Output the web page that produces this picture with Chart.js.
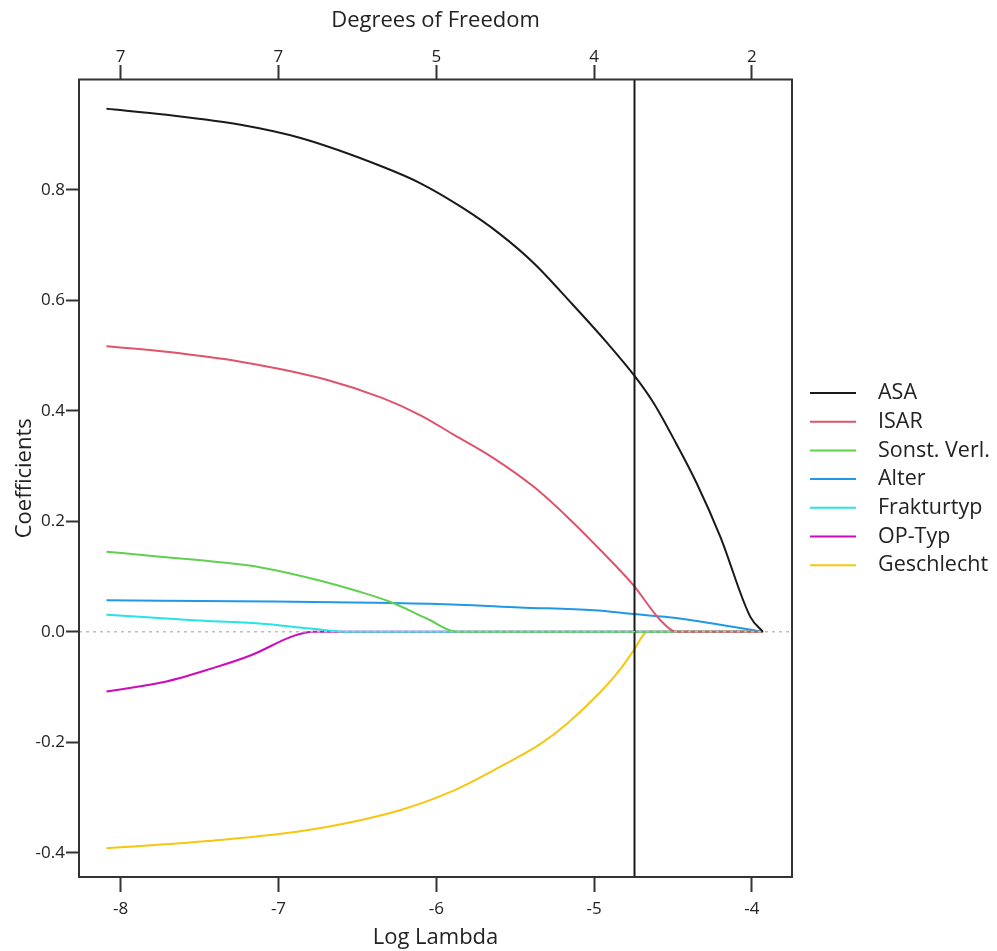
<!DOCTYPE html>
<html>
<head>
<meta charset="utf-8">
<script src="https://cdn.jsdelivr.net/npm/chart.js@4.4.1/dist/chart.umd.min.js"></script>
<style>
  html, body { margin: 0; padding: 0; background: #fff; }
  #wrap { width: 997px; height: 951px; position: relative; }
</style>
</head>
<body>
<div id="wrap"><canvas id="chart"></canvas></div>
<script>
// axis ticks
const lambdaTicks = [-8, -7, -6, -5, -4];
const dfLabels = ['7', '7', '5', '4', '2'];
const coefTicks = [-0.4, -0.2, 0, 0.2, 0.4, 0.6, 0.8];
const lambdaMin = -8.264;
const lambdaMax = -3.746;
const coefMin = -0.444;
const coefMax = 1.0;
const selectedLambda = -4.744;

const seriesNames = ['ASA', 'ISAR', 'Sonst. Verl.', 'Alter', 'Frakturtyp', 'OP-Typ', 'Geschlecht'];
const seriesColors = ['#1a1a1a', '#DF536B', '#61D04F', '#2297E6', '#28E2E5', '#CD0BBC', '#F5C710'];

// coefficient paths, [log lambda, coefficient]
const asa = [[-8.09, 0.947], [-7.71, 0.936], [-7.24, 0.918], [-6.86, 0.894], [-6.34, 0.842], [-6.10, 0.812],
  [-5.83, 0.767], [-5.60, 0.721], [-5.38, 0.667], [-5.15, 0.597], [-4.92, 0.524], [-4.74, 0.462],
  [-4.62, 0.413], [-4.48, 0.341], [-4.35, 0.269], [-4.20, 0.172], [-4.01, 0.027], [-3.93, 0]];
const isar = [[-8.09, 0.517], [-7.71, 0.507], [-7.24, 0.489], [-6.69, 0.456], [-6.34, 0.423], [-6.10, 0.392],
  [-5.89, 0.357], [-5.64, 0.315], [-5.38, 0.262], [-5.17, 0.208], [-4.96, 0.148], [-4.75, 0.084],
  [-4.58, 0.021], [-4.48, 0], [-3.93, 0]];
const sonstVerl = [[-8.09, 0.145], [-7.75, 0.136], [-7.37, 0.126], [-7.12, 0.117], [-6.74, 0.093], [-6.48, 0.072],
  [-6.29, 0.054], [-6.06, 0.024], [-5.87, 0], [-3.93, 0]];
const alter = [[-8.09, 0.057], [-7.03, 0.055], [-6.27, 0.052], [-5.86, 0.049], [-5.47, 0.044], [-5.00, 0.039],
  [-4.75, 0.032], [-4.48, 0.025], [-3.93, 0]];
const frakturtyp = [[-8.09, 0.031], [-7.54, 0.021], [-7.12, 0.015], [-6.80, 0.006], [-6.56, 0], [-3.93, 0]];
const opTyp = [[-8.09, -0.108], [-7.71, -0.090], [-7.43, -0.067], [-7.17, -0.042], [-6.90, -0.007], [-6.78, 0], [-3.93, 0]];
const geschlecht = [[-8.09, -0.392], [-7.45, -0.379], [-6.77, -0.357], [-6.23, -0.323], [-5.91, -0.290],
  [-5.60, -0.245], [-5.34, -0.203], [-5.17, -0.166], [-4.96, -0.109], [-4.84, -0.070], [-4.75, -0.034],
  [-4.66, 0], [-3.93, 0]];

const paths = [asa, isar, sonstVerl, alter, frakturtyp, opTyp, geschlecht];

const FONT = "'Open Sans', 'Noto Sans', sans-serif";

const datasets = [];
// zero reference line
datasets.push({
  data: [{ x: lambdaMin, y: 0 }, { x: lambdaMax, y: 0 }],
  borderColor: '#bdbdbd',
  borderWidth: 1.5,
  borderDash: [3, 4],
  pointRadius: 0
});
// selected lambda
datasets.push({
  data: [{ x: selectedLambda, y: coefMin }, { x: selectedLambda, y: coefMax }],
  borderColor: '#1a1a1a',
  borderWidth: 2,
  pointRadius: 0
});
paths.forEach((p, i) => {
  datasets.push({
    label: seriesNames[i],
    data: p.map(d => ({ x: d[0], y: d[1] })),
    borderColor: seriesColors[i],
    borderWidth: 2,
    pointRadius: 0,
    cubicInterpolationMode: 'monotone'
  });
});

const framePlugin = {
  id: 'frame',
  afterDraw(chart) {
    const { ctx, chartArea } = chart;
    ctx.save();
    ctx.strokeStyle = '#333';
    ctx.lineWidth = 2;
    ctx.strokeRect(chartArea.left, chartArea.top, chartArea.right - chartArea.left, chartArea.bottom - chartArea.top);

    // legend
    ctx.font = '21.5px ' + FONT;
    ctx.textBaseline = 'middle';
    ctx.textAlign = 'left';
    seriesNames.forEach((name, i) => {
      const y = 393 + i * 28.7;
      ctx.strokeStyle = seriesColors[i];
      ctx.lineWidth = 2;
      ctx.beginPath();
      ctx.moveTo(810, y);
      ctx.lineTo(856, y);
      ctx.stroke();
      ctx.fillStyle = '#222';
      ctx.fillText(name, 878, y);
    });
    ctx.restore();
  }
};

const tickFont = { family: FONT, size: 17 };
const titleFont = { family: FONT, size: 22 };

new Chart(document.getElementById('chart'), {
  type: 'line',
  data: { datasets: datasets },
  options: {
    responsive: true,
    maintainAspectRatio: false,
    animation: false,
    layout: { padding: { left: 0, right: 205, top: 0, bottom: 0 } },
    plugins: { legend: { display: false }, tooltip: { enabled: false } },
    scales: {
      x: {
        type: 'linear',
        position: 'bottom',
        min: lambdaMin,
        max: lambdaMax,
        afterBuildTicks: s => { s.ticks = lambdaTicks.map(v => ({ value: v })); },
        afterFit: s => { s.height = 74; },
        border: { display: false },
        grid: { drawOnChartArea: false, drawTicks: true, tickLength: 15, tickColor: '#333', tickWidth: 2 },
        ticks: { color: '#222', font: tickFont, padding: 7, maxRotation: 0, callback: v => String(v) },
        title: { display: true, text: 'Log Lambda', color: '#222', font: titleFont, padding: { top: 0, bottom: 0 } }
      },
      x2: {
        type: 'linear',
        position: 'top',
        min: lambdaMin,
        max: lambdaMax,
        afterBuildTicks: s => { s.ticks = lambdaTicks.map(v => ({ value: v })); },
        afterFit: s => { s.height = 79.5; },
        border: { display: false },
        grid: { drawOnChartArea: false, drawTicks: true, tickLength: 14.5, tickColor: '#333', tickWidth: 2 },
        ticks: { color: '#222', font: tickFont, padding: -2, maxRotation: 0,
          callback: v => dfLabels[lambdaTicks.indexOf(v)] },
        title: { display: true, text: 'Degrees of Freedom', color: '#222', font: titleFont, padding: { top: 8, bottom: 0 } }
      },
      y: {
        type: 'linear',
        position: 'left',
        min: coefMin,
        max: coefMax,
        afterBuildTicks: s => { s.ticks = coefTicks.map(v => ({ value: v })); },
        afterFit: s => { s.width = 79; },
        border: { display: false },
        grid: { drawOnChartArea: false, drawTicks: true, tickLength: 13, tickColor: '#333', tickWidth: 2 },
        ticks: { color: '#222', font: tickFont, padding: 1, callback: v => v.toFixed(1) },
        title: { display: true, text: 'Coefficients', color: '#222', font: titleFont, padding: { top: 12, bottom: 0 } }
      }
    }
  },
  plugins: [framePlugin]
});
</script>
</body>
</html>
